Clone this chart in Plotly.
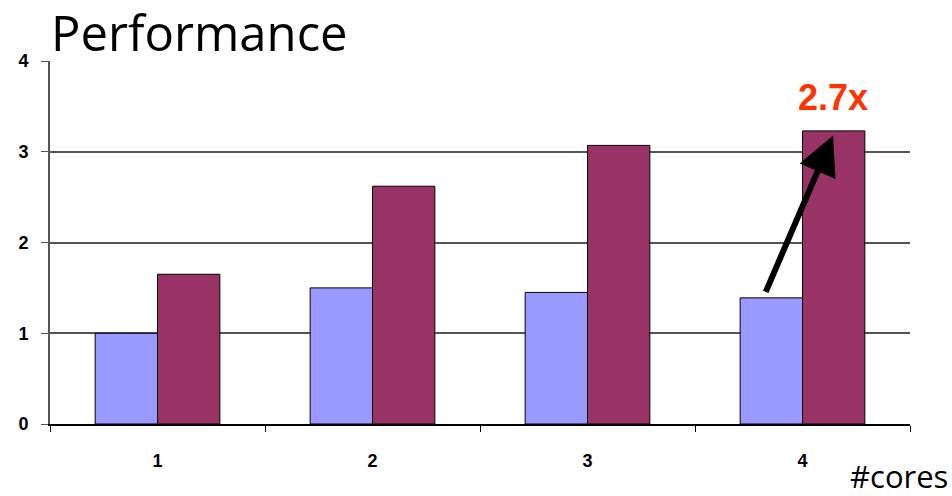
import plotly.graph_objects as go

# Speedup data per core count
cores = ["1", "2", "3", "4"]
baseline = [1.00, 1.50, 1.45, 1.39]
optimized = [1.65, 2.62, 3.07, 3.23]
speedup_label = "2.7x"
y_ticks = [0, 1, 2, 3, 4]

W, H = 952, 496
M = dict(l=50, r=42, t=61, b=72)
plot_w = W - M["l"] - M["r"]
plot_h = H - M["t"] - M["b"]


def px_x(x):
    """Paper x coordinate for a pixel column of the page."""
    return (x - M["l"]) / plot_w


def px_y(y):
    """Paper y coordinate for a pixel row of the page."""
    return (H - M["b"] - y) / plot_h


fig = go.Figure()
fig.add_trace(go.Bar(x=cores, y=baseline, name="baseline",
                     marker=dict(color="#9999FF", line=dict(color="#000000", width=1))))
fig.add_trace(go.Bar(x=cores, y=optimized, name="optimized",
                     marker=dict(color="#993366", line=dict(color="#000000", width=1))))

# Arrow from the baseline bar of the last group to its optimized bar
last = len(cores) - 1
fig.add_annotation(x=last + 0.142, y=optimized[last] - 0.05,
                   ax=last - 0.174, ay=baseline[last] + 0.05,
                   xref="x", yref="y", axref="x", ayref="y",
                   text="", showarrow=True, arrowhead=2, arrowsize=1.3,
                   arrowwidth=6, arrowcolor="#000000")
fig.add_annotation(x=last + 0.14, y=optimized[last], xref="x", yref="y",
                   text=speedup_label, showarrow=False, yshift=33,
                   font=dict(family="Liberation Sans, Arial, sans-serif",
                             size=36, color="#FF3300", weight="bold"))

fig.add_annotation(x=px_x(50), y=px_y(32), xref="paper", yref="paper",
                   xanchor="left", yanchor="middle", borderpad=0,
                   text="Performance", showarrow=False,
                   font=dict(family="Open Sans, sans-serif", size=49, color="#000000"))
fig.add_annotation(x=px_x(949), y=px_y(476), xref="paper", yref="paper",
                   xanchor="right", yanchor="middle", borderpad=0,
                   text="#cores", showarrow=False,
                   font=dict(family="Open Sans, sans-serif", size=31, color="#000000"))

fig.update_layout(
    width=W, height=H, margin=M,
    paper_bgcolor="white", plot_bgcolor="white",
    barmode="group", bargap=0.42, bargroupgap=0,
    showlegend=False,
    xaxis=dict(type="category", tickson="boundaries", ticks="outside", ticklen=6,
               tickcolor="#000000", showline=True, linecolor="#000000", linewidth=1.5,
               showgrid=False, ticklabelstandoff=20,
               tickfont=dict(family="Liberation Sans, Arial, sans-serif", size=18,
                             color="#000000", weight="bold")),
    yaxis=dict(range=[0, 4], tickvals=y_ticks, ticks="outside", ticklen=7,
               tickcolor="#555555", showline=True, linecolor="#555555", linewidth=2,
               showgrid=True, gridcolor="#555555", gridwidth=2, zeroline=False,
               ticklabelstandoff=9,
               tickfont=dict(family="Liberation Sans, Arial, sans-serif", size=18,
                             color="#000000", weight="bold")),
)

fig.write_html("out.html")
